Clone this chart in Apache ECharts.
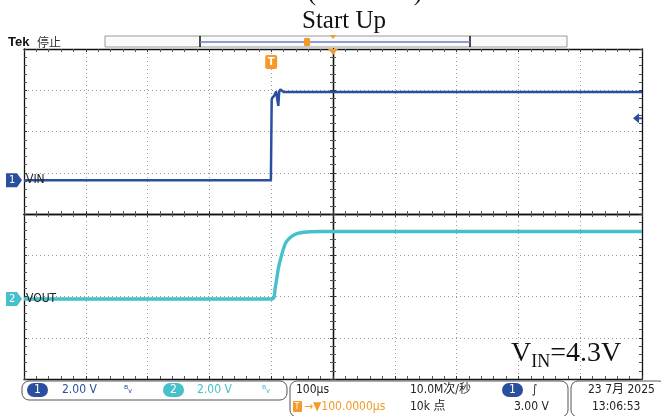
<!DOCTYPE html>
<html lang="zh">
  <head>
    <meta charset="UTF-8" />
    <title>Start Up</title>
    <script src="https://cdn.jsdelivr.net/npm/echarts@6/dist/echarts.min.js"></script>
    <style>
      html, body { margin: 0; padding: 0; background: #fff; }
    </style>
  </head>
  <body>
    <div id="main" style="width: 661px; height: 416px"></div>
    <script>
      // 波形数据 (时间 µs, 以触发点为 0)
      var vinTime = [-400, -0.5, 0.8, 2, 5, 8, 10, 11.5, 13, 15, 20, 600];
      var vinVolt = [0, 0, 3.9, 4.0, 4.1, 4.3, 3.9, 3.6, 4.3, 4.4, 4.28, 4.28];
      var voutTime = [-400, 1, 6.5, 11.8, 15.7, 22.7, 30.7, 41.6, 57.8, 80, 600];
      var voutVolt = [0, 0, 0.55, 1.52, 2.0, 2.67, 2.98, 3.17, 3.25, 3.27, 3.27];

      // 示波器设置
      var ch1Pos = 0.82;     // div
      var ch2Pos = -2.06;    // div
      var voltsPerDiv = 2;   // 2.00 V
      var timePerDiv = 100;  // 100µs
      var hPos = 100;        // 100.0000µs
      var trigLevel = 3.0;   // 3.00 V

      var scopeFont = '"Liberation Sans Narrow", "DejaVu Sans Condensed", "Noto Sans CJK SC", sans-serif';
      var serifFont = '"Liberation Serif", "DejaVu Serif", serif';
      var blue = '#2a4f9f';
      var cyan = '#46c0ca';
      var orange = '#f39a2b';

      function toPoints(ts, vs, pos) {
        var arr = [];
        for (let i = 0; i < ts.length; i++) {
          arr.push([(ts[i] - hPos) / timePerDiv, pos + vs[i] / voltsPerDiv]);
        }
        return arr;
      }

      function axisX(grid, position, split, onZero) {
        return {
          type: 'value', gridIndex: grid, position: position, min: -5, max: 5, interval: 1,
          axisLine: { show: true, onZero: onZero, lineStyle: { color: '#111', width: 1.3 } },
          axisTick: { show: true, inside: true, length: 3, lineStyle: { color: '#333' } },
          minorTick: { show: true, splitNumber: 5, length: 3, lineStyle: { color: '#555' } },
          axisLabel: { show: false },
          splitLine: { show: split, lineStyle: { color: '#9a9a9a', type: [1, 3] } },
        };
      }
      function axisY(grid, position, split, onZero) {
        return {
          type: 'value', gridIndex: grid, position: position, min: -4, max: 4, interval: 1,
          axisLine: { show: true, onZero: onZero, lineStyle: { color: '#111', width: 1.3 } },
          axisTick: { show: true, inside: true, length: 3, lineStyle: { color: '#333' } },
          minorTick: { show: true, splitNumber: 5, length: 3, lineStyle: { color: '#555' } },
          axisLabel: { show: false },
          splitLine: { show: split, lineStyle: { color: '#9a9a9a', type: [1, 3] } },
        };
      }

      var mCharts = echarts.init(document.getElementById('main'));
      var option = {
        animation: false,
        grid: [
          { left: 24, top: 49, width: 618, height: 330 },
          { left: 24, top: 49, width: 618, height: 330 },
        ],
        xAxis: [
          axisX(0, 'bottom', true, false),
          axisX(0, 'top', false, false),
          axisX(1, 'bottom', false, true),
          axisX(1, 'top', false, true),
        ],
        yAxis: [
          axisY(0, 'left', true, false),
          axisY(0, 'right', false, false),
          axisY(1, 'left', false, true),
          axisY(1, 'right', false, true),
        ],
        series: [
          {
            name: 'VIN', type: 'line', xAxisIndex: 0, yAxisIndex: 0,
            data: toPoints(vinTime, vinVolt, ch1Pos), symbol: 'none',
            lineStyle: { color: blue, width: 2.5 }, z: 5,
          },
          {
            name: 'VOUT', type: 'line', xAxisIndex: 0, yAxisIndex: 0,
            data: toPoints(voutTime, voutVolt, ch2Pos), symbol: 'none', smooth: 0.3,
            lineStyle: { color: cyan, width: 3.4 }, z: 5,
          },
        ],
      };
      mCharts.setOption(option);

      // 标记位置由坐标轴换算
      function px(xd, yd) { return mCharts.convertToPixel({ gridIndex: 0 }, [xd, yd]); }
      var g1 = px(-5, ch1Pos), g2 = px(-5, ch2Pos);
      var trigX = px((0 - hPos) / timePerDiv, 0)[0];
      var centerX = px(0, 0)[0];
      var trigY = px(5, ch1Pos + trigLevel / voltsPerDiv);
      var topY = px(0, 4)[1];

      function txt(x, y, s, color, size, font, extra) {
        var st = { text: s, fill: color, fontSize: size, fontFamily: font || scopeFont, verticalAlign: 'middle' };
        if (extra) for (var k in extra) st[k] = extra[k];
        return { type: 'text', x: x, y: y, style: st, z: 30 };
      }
      function tag(x, y, label, color) {
        return [
          { type: 'polygon', shape: { points: [[x, y - 7], [x + 11, y - 7], [x + 16, y], [x + 11, y + 7], [x, y + 7]] }, style: { fill: color }, z: 20 },
          txt(x + 3, y, label, '#fff', 11),
        ];
      }
      function pill(x, y, label, color) {
        return [
          { type: 'rect', shape: { x: x, y: y - 7, width: 21, height: 14, r: 7 }, style: { fill: color }, z: 20 },
          txt(x + 10.5, y, label, '#fff', 12, null, { align: 'center' }),
        ];
      }

      var graphics = [];
      // 标题
      graphics.push(txt(344, 21, 'Start Up', '#111', 25, serifFont, { align: 'center' }));
      graphics.push(txt(312, -7, '(', '#111', 25, serifFont, { align: 'center' }));
      graphics.push(txt(418, -7, ')', '#111', 25, serifFont, { align: 'center' }));
      // 顶部状态
      graphics.push(txt(8, 42, 'Tek', '#111', 13, '"Liberation Sans", sans-serif', { fontWeight: 'bold' }));
      graphics.push(txt(37, 42, '停止', '#333', 12, '"Noto Sans CJK SC", sans-serif'));
      graphics.push({ type: 'rect', shape: { x: 105, y: 36, width: 462, height: 11 }, style: { fill: '#fafafa', stroke: '#999', lineWidth: 1 }, z: 10 });
      graphics.push({ type: 'polyline', shape: { points: [[200, 36], [200, 47]] }, style: { stroke: '#111', lineWidth: 1.5 }, z: 11 });
      graphics.push({ type: 'polyline', shape: { points: [[470, 36], [470, 47]] }, style: { stroke: '#111', lineWidth: 1.5 }, z: 11 });
      graphics.push({ type: 'polyline', shape: { points: [[200, 42], [470, 42]] }, style: { stroke: '#6a7fc8', lineWidth: 1.5 }, z: 11 });
      graphics.push({ type: 'rect', shape: { x: 304, y: 38, width: 6, height: 8, r: 1 }, style: { fill: orange }, z: 12 });
      graphics.push({ type: 'polygon', shape: { points: [[330, 35], [336, 35], [333, 39]] }, style: { fill: orange }, z: 12 });
      // 触发位置 / 扩展点
      graphics.push({ type: 'polygon', shape: { points: [[centerX - 5, topY], [centerX + 5, topY], [centerX, topY + 6]] }, style: { fill: orange }, z: 21 });
      graphics.push({ type: 'rect', shape: { x: trigX - 6, y: 55, width: 12, height: 14, r: 2 }, style: { fill: orange }, z: 21 });
      graphics.push(txt(trigX, 62, 'T', '#fff', 11, null, { align: 'center', fontWeight: 'bold' }));
      // 触发电平箭头
      graphics.push({ type: 'polygon', shape: { points: [[trigY[0] - 9, trigY[1]], [trigY[0] - 3, trigY[1] - 5], [trigY[0] - 3, trigY[1] + 5]] }, style: { fill: blue }, z: 21 });
      graphics.push({ type: 'rect', shape: { x: trigY[0] - 4, y: trigY[1] - 1, width: 4, height: 2 }, style: { fill: blue }, z: 21 });
      // 通道标记
      graphics = graphics.concat(tag(6, g1[1], '1', blue));
      graphics = graphics.concat(tag(6, g2[1], '2', cyan));
      graphics.push(txt(26, g1[1], 'VIN', '#222', 12));
      graphics.push(txt(26, g2[1], 'VOUT', '#222', 12));
      // VIN=4.3V
      graphics.push({
        type: 'text', x: 511, y: 354, z: 30,
        style: {
          text: '{a|V}{b|IN}{a|=4.3V}', verticalAlign: 'middle', fill: '#111',
          rich: {
            a: { fontSize: 28, fontFamily: serifFont, fill: '#111', verticalAlign: 'bottom' },
            b: { fontSize: 18, fontFamily: serifFont, fill: '#111', verticalAlign: 'bottom', padding: [0, 0, -3, 0] },
          },
        },
      });
      // 底部状态栏
      graphics.push({ type: 'rect', shape: { x: 22, y: 381, width: 265, height: 19, r: 7 }, style: { fill: '#fff', stroke: '#555', lineWidth: 1 }, z: 15 });
      graphics.push({ type: 'rect', shape: { x: 290, y: 381, width: 278, height: 36, r: 7 }, style: { fill: '#fff', stroke: '#555', lineWidth: 1 }, z: 15 });
      graphics.push({ type: 'rect', shape: { x: 571, y: 381, width: 95, height: 36, r: 7 }, style: { fill: '#fff', stroke: '#555', lineWidth: 1 }, z: 15 });
      graphics = graphics.concat(pill(27, 390, '1', blue));
      graphics.push(txt(62, 390, '2.00 V', blue, 12));
      graphics.push(txt(124, 390, 'ᴮᵥ', blue, 11));
      graphics = graphics.concat(pill(163, 390, '2', cyan));
      graphics.push(txt(197, 390, '2.00 V', cyan, 12));
      graphics.push(txt(262, 390, 'ᴮᵥ', cyan, 11));
      graphics.push(txt(296, 390, '100µs', '#222', 12));
      graphics.push(txt(410, 390, '10.0M次/秒', '#222', 12));
      graphics = graphics.concat(pill(502, 390, '1', blue));
      graphics.push(txt(532, 390, '∫', '#222', 12));
      graphics.push({ type: 'rect', shape: { x: 293, y: 401, width: 9, height: 11, r: 1 }, style: { fill: orange }, z: 20 });
      graphics.push(txt(294.5, 406.5, 'T', '#fff', 9));
      graphics.push(txt(304, 407, '→▼100.0000µs', orange, 12));
      graphics.push(txt(410, 407, '10k 点', '#222', 12));
      graphics.push(txt(514, 407, '3.00 V', '#222', 12));
      graphics.push(txt(588, 390, '23 7月 2025', '#222', 12));
      graphics.push(txt(592, 407, '13:06:53', '#222', 12));

      mCharts.setOption({ graphic: graphics });
    </script>
  </body>
</html>
